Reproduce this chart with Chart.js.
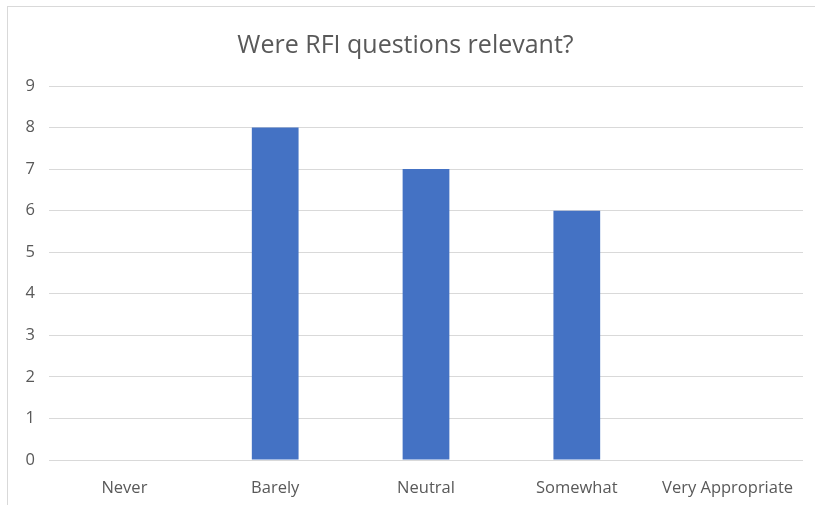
<!DOCTYPE html>
<html>
<head>
<meta charset="utf-8">
<script src="https://cdn.jsdelivr.net/npm/chart.js@4"></script>
<style>
  html, body { margin: 0; padding: 0; background: #fff; }
  #wrap { position: relative; width: 815px; height: 505px; overflow: hidden; }
  #frame { position: absolute; left: 7px; top: 6px; width: 900px; height: 600px;
           border-left: 1px solid #d9d9d9; border-top: 1px solid #d9d9d9; box-sizing: border-box; }
  canvas { position: absolute; left: 0; top: 0; }
</style>
</head>
<body>
<div id="wrap">
  <div id="frame"></div>
  <canvas id="c" width="815" height="505"></canvas>
</div>
<script>
const categories = ['Never', 'Barely', 'Neutral', 'Somewhat', 'Very Appropriate'];
const responses = [0, 8, 7, 6, 0];
const yTicks = [0, 1, 2, 3, 4, 5, 6, 7, 8, 9];
const chartTitle = 'Were RFI questions relevant?';

const textColor = '#595959';
const fontFamily = "'Open Sans', 'Liberation Sans', sans-serif";

new Chart(document.getElementById('c'), {
  type: 'bar',
  data: {
    labels: categories,
    datasets: [{
      data: responses,
      backgroundColor: '#4472c4',
      borderWidth: 0,
      barPercentage: 0.31,
      categoryPercentage: 1
    }]
  },
  options: {
    responsive: false,
    animation: false,
    layout: { padding: { left: 8, right: 12, top: 0, bottom: 8 } },
    plugins: {
      legend: { display: false },
      tooltip: { enabled: false },
      title: {
        display: true,
        text: chartTitle,
        color: textColor,
        font: { family: fontFamily, size: 25, weight: 'normal' },
        padding: { top: 31, bottom: 25 }
      }
    },
    scales: {
      x: {
        grid: { display: false },
        border: { display: false },
        ticks: { color: textColor, font: { family: fontFamily, size: 16.5 }, padding: 10, maxRotation: 0 },
        afterFit: s => { s.height = 37; }
      },
      y: {
        min: 0,
        max: 9,
        afterBuildTicks: s => { s.ticks = yTicks.map(v => ({ value: v })); },
        grid: { color: '#d9d9d9', lineWidth: 1, drawTicks: false },
        border: { display: false },
        ticks: { color: textColor, font: { family: fontFamily, size: 16.5 }, padding: 14 },
        afterFit: s => { s.width = 41; }
      }
    }
  }
});
</script>
</body>
</html>
